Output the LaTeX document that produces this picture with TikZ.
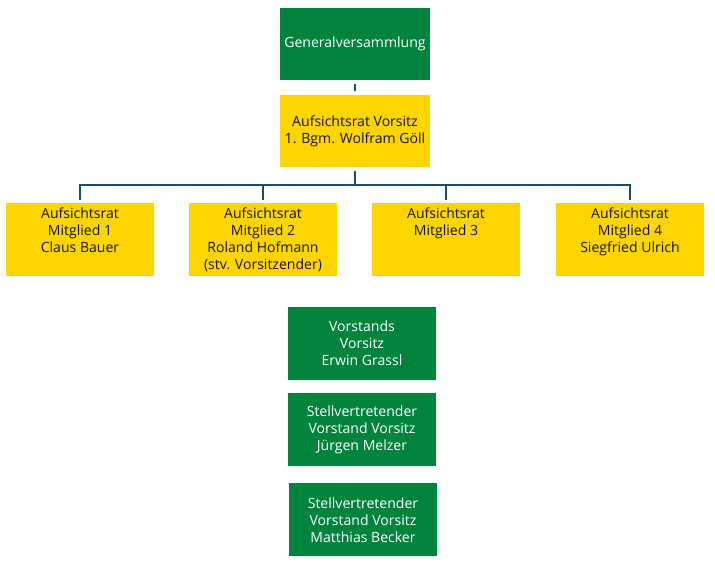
\documentclass[tikz,border=0pt]{standalone}
\usepackage{fontspec}
\setmainfont{Open Sans}
\usepackage{xcolor}

\newcommand{\boxtext}[2]{\parbox[c][#1][t]{4.3cm}{\centering\fontsize{12pt}{14.5pt}\selectfont #2}}
\newcommand{\midtext}[1]{\parbox{4.3cm}{\centering\fontsize{12pt}{14.5pt}\selectfont #1}}

\begin{document}
\begin{tikzpicture}
\definecolor{cgv}{rgb}{0.0,0.517,0.239}
\definecolor{cyv}{rgb}{1.0,0.835,0.0}
\definecolor{ctw}{rgb}{1.0,1.0,1.0}
\definecolor{cty}{rgb}{0.08,0.08,0.08}
\definecolor{cln}{rgb}{0.11,0.30,0.42}
\tikzset{
  gbox/.style={minimum width=4.44cm,minimum height=2.19cm,inner sep=0pt,fill=cgv,text=ctw,shape=rectangle},
  ybox/.style={minimum width=4.44cm,minimum height=2.19cm,inner sep=0pt,fill=cyv,text=cty,shape=rectangle},
  conn/.style={line width=2.2pt,color=cln}
}
%
\useasboundingbox (0,0) rectangle (21.45,16.95);
%
\node[gbox,minimum width=4.5cm,minimum height=2.16cm] (gv) at (10.65,15.63) {\midtext{Generalversammlung}};
\node[ybox,minimum width=4.5cm,minimum height=2.16cm] (av) at (10.65,13.02) {\midtext{Aufsichtsrat Vorsitz\\1. Bgm. Wolfram Göll}};
\node[ybox] (m1) at (2.4,9.765) {\boxtext{1.9cm}{Aufsichtsrat\\Mitglied 1\\Claus Bauer}};
\node[ybox] (m2) at (7.89,9.765) {\boxtext{1.9cm}{Aufsichtsrat\\Mitglied 2\\Roland Hofmann\\(stv. Vorsitzender)}};
\node[ybox] (m3) at (13.38,9.765) {\boxtext{1.9cm}{Aufsichtsrat\\Mitglied 3}};
\node[ybox] (m4) at (18.9,9.765) {\boxtext{1.9cm}{Aufsichtsrat\\Mitglied 4\\Siegfried Ulrich}};
\node[gbox] (v1) at (10.86,6.645) {\midtext{Vorstands\\Vorsitz\\Erwin Grassl}};
\node[gbox] (v2) at (10.86,4.065) {\midtext{Stellvertretender\\Vorstand Vorsitz\\Jürgen Melzer}};
\node[gbox] (v3) at (10.89,1.35) {\midtext{Stellvertretender\\Vorstand Vorsitz\\Matthias Becker}};
%
\coordinate (bus) at (10.65,11.4);
%
\draw[conn,shorten <=0.12cm,shorten >=0.12cm] (gv) -- (av);
\draw[conn,shorten <=0.12cm] (av.south) -- (bus);
\draw[conn,shorten >=0.09cm] (bus) -| (m1.north);
\draw[conn,shorten >=0.09cm] (bus) -| (m2.north);
\draw[conn,shorten >=0.09cm] (bus) -| (m3.north);
\draw[conn,shorten >=0.09cm] (bus) -| (m4.north);
%
\end{tikzpicture}
\end{document}
